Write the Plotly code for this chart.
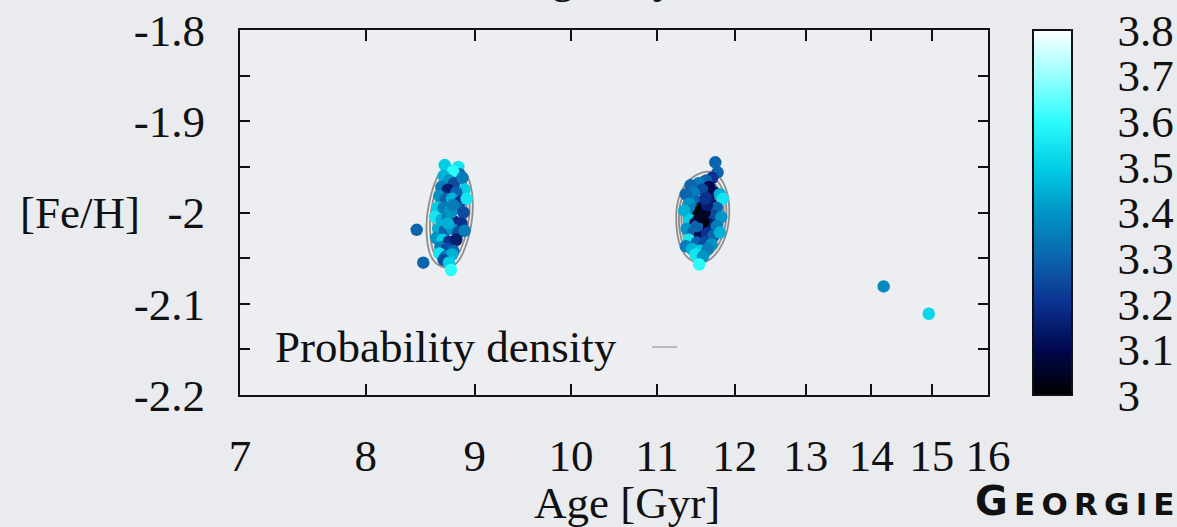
import numpy as np
import plotly.graph_objects as go

# ---------------- data ----------------
age_c1 = [8.71, 8.84, 8.85, 8.79, 8.70, 8.75, 8.80, 8.88, 8.68, 8.74, 8.90, 8.82, 8.66, 8.72,
          8.78, 8.86, 8.92, 8.64, 8.70, 8.76, 8.83, 8.89, 8.62, 8.68, 8.74, 8.80, 8.87, 8.65,
          8.71, 8.78, 8.84, 8.90, 8.63, 8.69, 8.75, 8.82, 8.67, 8.73, 8.79, 8.66, 8.72, 8.78,
          8.70, 8.75, 8.77, 8.45, 8.51, 8.77, 8.74, 8.79]
feh_c1 = [-1.948, -1.950, -1.958, -1.955, -1.960, -1.965, -1.968, -1.962, -1.972, -1.975,
          -1.975, -1.978, -1.982, -1.985, -1.985, -1.988, -1.985, -1.995, -1.995, -1.998,
          -1.995, -2.000, -2.005, -2.008, -2.005, -2.010, -2.012, -2.018, -2.020, -2.018,
          -2.022, -2.020, -2.028, -2.030, -2.032, -2.030, -2.038, -2.040, -2.042, -2.045,
          -2.048, -2.046, -2.052, -2.055, -2.063, -2.019, -2.055, -2.000, -2.012, -1.992]
val_c1 = [3.50, 3.55, 3.30, 3.60, 3.45, 3.40, 3.25, 3.35, 3.35, 3.15, 3.50, 3.30, 3.40, 3.30,
          3.45, 3.20, 3.55, 3.50, 3.35, 3.40, 3.30, 3.25, 3.55, 3.45, 3.35, 3.15, 3.20, 3.45,
          3.30, 3.40, 3.25, 3.35, 3.40, 3.50, 3.20, 3.15, 3.35, 3.25, 3.30, 3.55, 3.35, 3.45,
          3.25, 3.50, 3.60, 3.30, 3.30, 3.40, 3.45, 3.35]

age_c2 = [11.74, 11.77, 11.70, 11.62, 11.52, 11.42, 11.66, 11.57, 11.46, 11.36, 11.72, 11.80,
          11.84, 11.62, 11.50, 11.40, 11.68, 11.56, 11.45, 11.76, 11.34, 11.52, 11.60, 11.70,
          11.82, 11.41, 11.48, 11.57, 11.66, 11.76, 11.37, 11.45, 11.54, 11.63, 11.72, 11.80,
          11.40, 11.50, 11.60, 11.69, 11.36, 11.44, 11.55, 11.64, 11.48, 11.58, 11.53,
          11.55, 11.60, 11.52, 11.58, 11.63, 11.50, 11.56, 11.61]
feh_c2 = [-1.945, -1.956, -1.962, -1.965, -1.968, -1.970, -1.972, -1.975, -1.978, -1.980,
          -1.978, -1.980, -1.985, -1.984, -1.988, -1.990, -1.990, -1.995, -1.997, -1.995,
          -1.998, -2.003, -2.006, -2.003, -2.005, -2.008, -2.012, -2.015, -2.013, -2.015,
          -2.018, -2.022, -2.025, -2.023, -2.025, -2.022, -2.030, -2.033, -2.033, -2.035,
          -2.037, -2.040, -2.042, -2.040, -2.046, -2.048, -2.057,
          -1.998, -2.000, -2.008, -2.010, -1.992, -2.015, -2.005, -1.985]
val_c2 = [3.30, 3.30, 3.20, 3.30, 3.35, 3.30, 3.10, 3.25, 3.35, 3.30, 3.10, 3.45, 3.55, 3.20,
          3.30, 3.40, 3.15, 3.05, 3.35, 3.30, 3.45, 3.00, 3.05, 3.25, 3.40, 3.50, 3.10, 3.00,
          3.15, 3.35, 3.40, 3.30, 3.10, 3.20, 3.30, 3.45, 3.55, 3.30, 3.25, 3.40, 3.35, 3.45,
          3.50, 3.35, 3.55, 3.40, 3.60,
          3.00, 3.05, 3.10, 3.00, 3.15, 3.30, 3.05, 3.20]

age_out = [14.2, 14.95]
feh_out = [-2.081, -2.111]
val_out = [3.38, 3.52]

x_ticks = [7, 8, 9, 10, 11, 12, 13, 14, 15, 16]
y_ticks = [-1.8, -1.9, -2.0, -2.1, -2.2]
y_ticktext = ["-1.8", "-1.9", "-2", "-2.1", "-2.2"]
c_ticks = [3.0, 3.1, 3.2, 3.3, 3.4, 3.5, 3.6, 3.7, 3.8]
c_ticktext = ["3", "3.1", "3.2", "3.3", "3.4", "3.5", "3.6", "3.7", "3.8"]

# --------------- layout geometry ---------------
W, H = 1177, 527
L, R, T, B = 240, 988, 30, 395
PW, PH = R - L, B - T
SHIFT = 1.0   # axis drawn as log(age - 1)

def pxx(p):
    return (p - L) / PW

def pxy(p):
    return (B - p) / PH

FONT = "Liberation Serif"
FS = 45
colorscale = [
    [0.0, "#000000"], [0.125, "#00084e"], [0.25, "#0b3190"], [0.375, "#0d64ae"],
    [0.5, "#0095c4"], [0.625, "#00cfe6"], [0.75, "#2cfbfc"], [0.875, "#98ffff"],
    [1.0, "#ffffff"],
]

age_all = np.array(age_c1 + age_c2 + age_out)
feh_all = np.array(feh_c1 + feh_c2 + feh_out)
val_all = np.array(val_c1 + val_c2 + val_out)
xs = age_all - SHIFT

fig = go.Figure()
fig.add_trace(go.Scatter(
    x=xs, y=feh_all, mode="markers",
    marker=dict(size=12.5, color=val_all, colorscale=colorscale, cmin=3.0, cmax=3.8,
                line=dict(width=0),
                colorbar=dict(
                    x=pxx(1033), xanchor="left", y=0.5, yanchor="middle", len=1,
                    thickness=39, thicknessmode="pixels", xpad=0, ypad=0,
                    outlinecolor="#111111", outlinewidth=2,
                    tickvals=c_ticks, ticktext=c_ticktext,
                    ticks="outside", ticklen=36, tickcolor="rgba(0,0,0,0)",
                    tickfont=dict(family=FONT, size=FS, color="#111111"),
                )),
    showlegend=False, hoverinfo="skip",
))

# kernel density estimate for the probability-density contours
u = np.log10(xs)
su = PW / np.log10(15 / 6)   # px per log unit
sy = PH / 0.4                # px per dex
hx = 14.0
hy = 15.0
gx = np.linspace(np.log10(7.0), np.log10(12.0), 500)
gy = np.linspace(-2.18, -1.84, 340)
GX, GY = np.meshgrid(gx, gy)
Z = np.zeros_like(GX)
for ui, yi in zip(u, feh_all):
    Z += np.exp(-0.5 * (((GX - ui) * su / hx) ** 2 + ((GY - yi) * sy / hy) ** 2))
peak1 = Z[GX < np.log10(9.0)].max()
fig.add_trace(go.Contour(
    x=10 ** gx, y=gy, z=Z,
    contours=dict(coloring="lines", start=0.42 * peak1, end=Z.max(), size=0.11 * peak1),
    line=dict(width=1.8, smoothing=1.0),
    colorscale=[[0, "#8c8c8c"], [1, "#8c8c8c"]],
    showscale=False, hoverinfo="skip", showlegend=False,
))

fig.update_xaxes(
    type="log", range=[np.log10(7 - SHIFT), np.log10(16 - SHIFT)],
    tickvals=[t - SHIFT for t in x_ticks], ticktext=[str(t) for t in x_ticks],
    ticks="inside", ticklen=11, tickwidth=1.5, tickcolor="#111111",
    showline=True, linewidth=2, linecolor="#111111", mirror="ticks",
    showgrid=False, zeroline=False,
    tickfont=dict(family=FONT, size=FS, color="#111111"),
    ticklabelstandoff=20,
)
fig.update_yaxes(
    range=[-2.2, -1.8], tickvals=y_ticks, ticktext=y_ticktext,
    ticks="inside", ticklen=10, tickwidth=1.5, tickcolor="#111111",
    minor=dict(dtick=0.05, ticks="inside", ticklen=10, tickwidth=1.5, tickcolor="#111111"),
    showline=True, linewidth=2, linecolor="#111111", mirror="ticks",
    showgrid=False, zeroline=False,
    tickfont=dict(family=FONT, size=FS, color="#111111"),
    ticklabelstandoff=24,
)

SP = "\u2009"
annotations = [
    dict(text="[Fe/H]", x=pxx(18), y=pxy(213), xanchor="left", yanchor="middle",
         font=dict(family=FONT, size=FS, color="#111111")),
    dict(text="Age [Gyr]", x=pxx(627), y=pxy(503), xanchor="center", yanchor="middle",
         font=dict(family=FONT, size=FS, color="#111111")),
    dict(text="Age [Gyr]", x=pxx(612), y=pxy(-22), xanchor="center", yanchor="middle",
         font=dict(family=FONT, size=FS, color="#111111")),
    dict(text="Probability density", x=pxx(273), y=pxy(347), xanchor="left", yanchor="middle",
         font=dict(family=FONT, size=FS, color="#111111")),
    dict(text="<b><span style='font-size:40px'>G</span>" + SP + SP.join("EORGIE") + "</b>",
         x=pxx(973), y=pxy(501), xanchor="left", yanchor="middle",
         font=dict(family="DejaVu Sans", size=31, color="#111111")),
]
for a in annotations:
    a.update(xref="paper", yref="paper", showarrow=False)

shapes = [dict(type="line", xref="paper", yref="paper", x0=pxx(652), x1=pxx(677),
               y0=pxy(347), y1=pxy(347), line=dict(color="#9a9a9a", width=1.2))]
# colorbar inner tick dashes (both sides)
for v in c_ticks[1:-1]:
    yy = (v - 3.0) / 0.8
    shapes.append(dict(type="line", xref="paper", yref="paper", x0=pxx(1033), x1=pxx(1039),
                       y0=yy, y1=yy, line=dict(color="#111111", width=1.5)))
    shapes.append(dict(type="line", xref="paper", yref="paper", x0=pxx(1066), x1=pxx(1072),
                       y0=yy, y1=yy, line=dict(color="#111111", width=1.5)))

fig.update_layout(
    width=W, height=H,
    margin=dict(l=L, r=W - R, t=T, b=H - B, autoexpand=False),
    font=dict(family=FONT, size=FS, color="#111111"),
    paper_bgcolor="#e9ebee", plot_bgcolor="#eceef1",
    annotations=annotations, shapes=shapes,
    showlegend=False,
)
fig.write_html("out.html")
